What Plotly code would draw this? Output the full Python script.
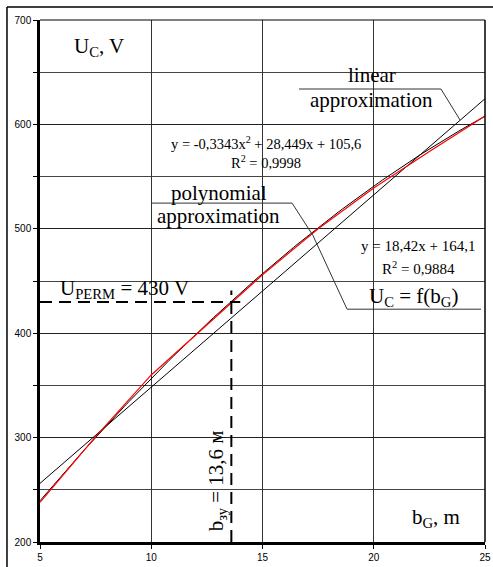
import numpy as np
import plotly.graph_objects as go

# measured curve U_C = f(b_G)
b_g = [5, 7.5, 10, 12.5, 15, 17.5, 20, 22.5, 25]
u_c = [238, 301, 360, 408, 456, 500, 539, 574, 608]

# trendline coefficients as printed on the chart
poly_coef = [-0.3343, 28.449, 105.6]
lin_coef = [18.42, 164.1]

u_perm = 430
b_zy = 13.6

serif = "Liberation Serif"
sans = "Liberation Sans"

xs = np.linspace(5, 25, 101)

fig = go.Figure()
fig.add_trace(go.Scatter(x=xs, y=np.polyval(lin_coef, xs), mode="lines",
                         line=dict(color="black", width=1)))
fig.add_trace(go.Scatter(x=xs, y=np.polyval(poly_coef, xs), mode="lines",
                         line=dict(color="black", width=1)))
fig.add_trace(go.Scatter(x=b_g, y=u_c, mode="lines",
                         line=dict(color="red", width=1.2)))

# dashed guide lines for U_PERM and b_zy
fig.add_trace(go.Scatter(x=[5, 14.0], y=[u_perm, u_perm], mode="lines",
                         line=dict(color="black", width=2, dash="12px,7px")))
fig.add_trace(go.Scatter(x=[b_zy, b_zy], y=[200, 441], mode="lines",
                         line=dict(color="black", width=2, dash="12px,7px")))

leader = dict(color="#333", width=1)
shapes = []
for pts in ([(16.64, 633.9), (23.02, 633.9), (23.88, 604.2)],
            [(9.99, 524.6), (16.33, 524.6), (17.27, 493.5)],
            [(17.27, 493.5), (18.80, 423.0), (24.82, 423.0)]):
    for (x0, y0), (x1, y1) in zip(pts[:-1], pts[1:]):
        shapes.append(dict(type="line", xref="x", yref="y", x0=x0, y0=y0,
                           x1=x1, y1=y1, line=leader))

# outer frame and plot border
shapes += [
    dict(type="line", xref="paper", yref="paper", x0=-0.0742, x1=1.03,
         y0=1.0249, y1=1.0249, line=dict(color="black", width=1.5)),
    dict(type="line", xref="paper", yref="paper", x0=-0.0742, x1=-0.0742,
         y0=1.0249, y1=-0.06, line=dict(color="black", width=1.5)),
    dict(type="line", xref="paper", yref="paper", x0=0, x1=1, y0=1, y1=1,
         line=dict(color="black", width=1)),
    dict(type="line", xref="paper", yref="paper", x0=1, x1=1, y0=0, y1=1,
         line=dict(color="black", width=1.5)),
]

notes = [
    ("U<sub>C</sub>, V", 6.44, 674.0, 21, "left", 0),
    ("linear", 19.92, 647.6, 21, "center", 0),
    ("approximation", 19.9, 623.6, 21, "center", 0),
    ("y = -0,3343x<sup>2</sup> + 28,449x + 105,6", 15.16, 582.6, 14.5, "center", 0),
    ("R<sup>2</sup> = 0,9998", 15.16, 563.7, 14.5, "center", 0),
    ("polynomial", 13.04, 534.5, 21, "center", 0),
    ("approximation", 13.04, 511.8, 21, "center", 0),
    ("y = 18,42x + 164,1", 21.99, 483.9, 15, "center", 0),
    ("R<sup>2</sup> = 0,9884", 22.03, 462.1, 15, "center", 0),
    ("U<sub>C</sub> = f(b<sub>G</sub>)", 21.79, 434.8, 21, "center", 0),
    ("U<sub>PERM</sub> = 430 V", 8.78, 442.8, 21, "center", 0),
    ("b<sub>G</sub>, m", 22.78, 223.0, 21, "center", 0),
    ("b<sub>зу</sub> = 13,6 м", 12.96, 258.2, 21, "center", -90),
]
annotations = [
    dict(text=t, x=x, y=y, xref="x", yref="y", showarrow=False,
         xanchor=xa, yanchor="middle", textangle=ang,
         font=dict(family=serif, size=fs, color="black"))
    for t, x, y, fs, xa, ang in notes
]

fig.update_layout(
    width=493, height=567,
    margin=dict(l=40, r=8, t=20, b=25),
    paper_bgcolor="white", plot_bgcolor="white",
    showlegend=False,
    shapes=shapes, annotations=annotations,
    font=dict(family=sans, size=10, color="black"),
)
fig.update_xaxes(range=[5, 25], dtick=5, tick0=5, showgrid=True,
                 gridcolor="#333", gridwidth=1, zeroline=False,
                 showline=True, linecolor="black", linewidth=2.5,
                 ticks="outside", ticklen=4, tickcolor="black",
                 ticklabeloverflow="allow", automargin=False,
                 tickfont=dict(family=sans, size=10))
fig.update_yaxes(range=[200, 700], dtick=100, tick0=200, showgrid=True,
                 gridcolor="#222", gridwidth=1, zeroline=False,
                 showline=True, linecolor="black", linewidth=2.5,
                 ticks="outside", ticklen=4, tickcolor="black",
                 automargin=False,
                 tickfont=dict(family=sans, size=10),
                 minor=dict(dtick=50, tick0=200, showgrid=True, gridcolor="#444",
                            ticks="outside", ticklen=4, tickcolor="black"))

# drop the default page margin so the chart sits at the window corner
fig.write_html(
    "out.html",
    config={"displayModeBar": False},
    post_script="document.body.style.margin='0';"
                "document.documentElement.style.overflow='hidden';",
)
